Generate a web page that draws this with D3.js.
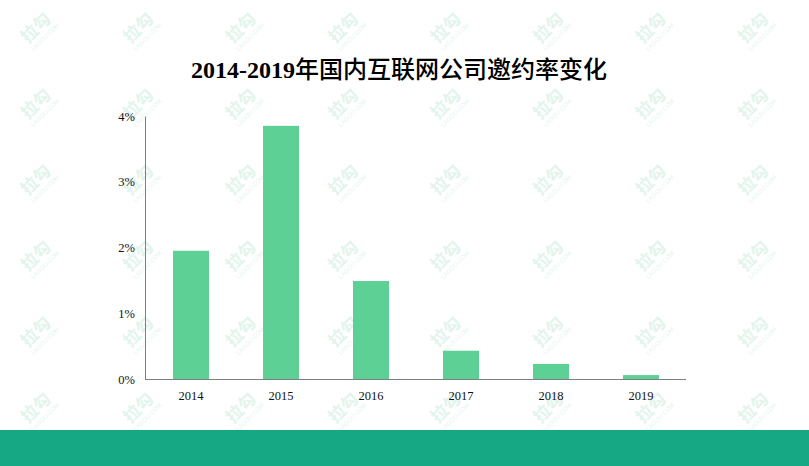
<!DOCTYPE html>
<html><head><meta charset="utf-8">
<script src="https://cdn.jsdelivr.net/npm/d3@7"></script>
<style>body{margin:0;background:#fff;}svg{display:block;}</style>
</head><body>
<svg id="c" width="809" height="466"></svg>
<script>
const titleNum = "2014-2019";
const titleText = "年国内互联网公司邀约率变化";
const years = ["2014","2015","2016","2017","2018","2019"];
const rates = [1.95, 3.85, 1.49, 0.43, 0.23, 0.06];
const yTicks = [0, 1, 2, 3, 4];

const svg = d3.select("#c");
const W = 809, H = 466;
svg.append("rect").attr("width", W).attr("height", H).attr("fill", "#fff");

// watermarks
const wmX = d3.range(8).map(i => 40 + i * 102.5);
const wmY = d3.range(6).map(i => 32 + i * 76);
const wm = svg.append("g").attr("pointer-events", "none");
wmY.forEach(y => wmX.forEach(x => {
  const g = wm.append("g").attr("transform", `translate(${x},${y}) rotate(-45)`);
  g.append("text").attr("text-anchor", "middle").attr("y", 0)
    .attr("font-family", "Noto Sans CJK SC").attr("font-size", 17).attr("font-weight", "bold")
    .attr("fill", "#e2f4ec").text("拉勾");
  g.append("text").attr("text-anchor", "middle").attr("y", 9)
    .attr("font-family", "Liberation Sans").attr("font-size", 6)
    .attr("fill", "#e6f5ee").text("LAGOU.COM");
}));

const x = d3.scaleBand().domain(years).range([146, 686]).paddingInner(0.6).paddingOuter(0.3);
const y = d3.scaleLinear().domain([0, 4]).range([379, 116]);

svg.append("g").selectAll("rect").data(years).join("rect")
  .attr("x", d => x(d)).attr("width", x.bandwidth())
  .attr("y", (d, i) => y(rates[i])).attr("height", (d, i) => y(0) - y(rates[i]))
  .attr("fill", "#5dd195");

const yAxis = svg.append("g").attr("transform", "translate(145,0)")
  .call(d3.axisLeft(y).tickValues(yTicks).tickSize(0).tickPadding(10).tickFormat(d => d + "%"));
yAxis.select(".domain").attr("stroke", "#808080");
yAxis.selectAll("text").attr("font-family", "Liberation Serif").attr("font-size", 12.5).attr("fill", "#111");

const xAxis = svg.append("g").attr("transform", "translate(0,379)")
  .call(d3.axisBottom(x).tickSize(0).tickPadding(12));
xAxis.select(".domain").attr("stroke", "#808080").attr("d", "M145,0.5H686");
xAxis.selectAll("text").attr("font-family", "Liberation Serif").attr("font-size", 12.5).attr("fill", "#111");

const t = svg.append("text").attr("x", 399).attr("y", 78).attr("text-anchor", "middle")
  .attr("font-size", 24).attr("fill", "#000");
t.append("tspan").attr("font-family", "Liberation Serif").attr("font-weight", "bold").text(titleNum);
t.append("tspan").attr("font-family", "Noto Sans CJK SC").attr("font-weight", 500).text(titleText);

svg.append("rect").attr("x", 0).attr("y", 430).attr("width", W).attr("height", 36).attr("fill", "#16a884");
</script>
</body></html>
